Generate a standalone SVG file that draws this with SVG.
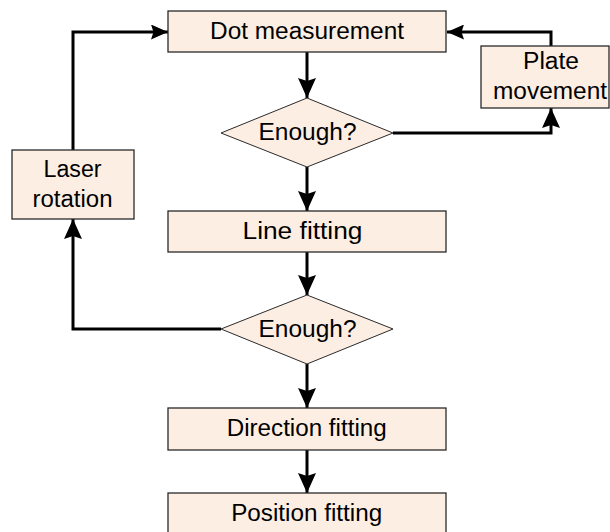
<svg xmlns="http://www.w3.org/2000/svg" width="610" height="532" viewBox="0 0 610 532">
  <style>
    .box { fill: #fdeee3; stroke: #2a2a2a; stroke-width: 1.3; }
    .dia { fill: #fdeee3; stroke: #2a2a2a; stroke-width: 1; }
    .lbl { font-family: "Liberation Sans", Arial, sans-serif; font-size: 23px; fill: #000; text-anchor: middle; }
    .wire { fill: none; stroke: #000; stroke-width: 3; stroke-linejoin: miter; }
    .down { marker-end: url(#headV); }
    .side { marker-end: url(#headH); }
  </style>
  <defs>
    <marker id="headV" markerUnits="userSpaceOnUse" viewBox="0 0 20 18" refX="20" refY="9" markerWidth="20" markerHeight="18" orient="auto">
      <path d="M0,0 L20,9 L0,18 L3,9 Z" fill="#000"/>
    </marker>
    <marker id="headH" markerUnits="userSpaceOnUse" viewBox="0 0 17 15" refX="17" refY="7.5" markerWidth="17" markerHeight="15" orient="auto">
      <path d="M0,0 L17,7.5 L0,15 L2.5,7.5 Z" fill="#000"/>
    </marker>
  </defs>

  <g id="connectors">
    <path class="wire down" d="M307,52 V98"/>
    <path class="wire down" d="M307,167 V211"/>
    <path class="wire down" d="M307,252 V295"/>
    <path class="wire down" d="M307,364 V408"/>
    <path class="wire down" d="M307,450 V493"/>
    <path class="wire down" d="M393,133 H551 V108"/>
    <path class="wire side" d="M551,46 V32 H447"/>
    <path class="wire down" d="M221,329 H73 V219"/>
    <path class="wire side" d="M73,150 V32 H168"/>
  </g>

  <g id="dot-measurement">
    <rect class="box" x="168" y="11" width="278" height="41"/>
    <text class="lbl" x="307" y="39" textLength="194" lengthAdjust="spacingAndGlyphs">Dot measurement</text>
  </g>

  <g id="plate-movement">
    <rect class="box" x="481" y="46" width="128" height="62"/>
    <text class="lbl" x="551" y="69" textLength="56" lengthAdjust="spacingAndGlyphs">Plate</text>
    <text class="lbl" x="550" y="99" textLength="114" lengthAdjust="spacingAndGlyphs">movement</text>
  </g>

  <g id="check-dots">
    <polygon class="dia" points="307,98 393,133 307,167 221,133"/>
    <text class="lbl" x="307.5" y="140" textLength="98" lengthAdjust="spacingAndGlyphs">Enough?</text>
  </g>

  <g id="laser-rotation">
    <rect class="box" x="12" y="150" width="122" height="69"/>
    <text class="lbl" x="72.5" y="177" textLength="58" lengthAdjust="spacingAndGlyphs">Laser</text>
    <text class="lbl" x="72.5" y="207" textLength="80" lengthAdjust="spacingAndGlyphs">rotation</text>
  </g>

  <g id="line-fitting">
    <rect class="box" x="168" y="211" width="278" height="41"/>
    <text class="lbl" x="302.5" y="239" textLength="120" lengthAdjust="spacingAndGlyphs">Line fitting</text>
  </g>

  <g id="check-lines">
    <polygon class="dia" points="307,295 393,329 307,364 221,329"/>
    <text class="lbl" x="307.5" y="337" textLength="98" lengthAdjust="spacingAndGlyphs">Enough?</text>
  </g>

  <g id="direction-fitting">
    <rect class="box" x="168" y="408" width="278" height="42"/>
    <text class="lbl" x="306.7" y="436" textLength="160" lengthAdjust="spacingAndGlyphs">Direction fitting</text>
  </g>

  <g id="position-fitting">
    <rect class="box" x="168" y="493" width="278" height="45"/>
    <text class="lbl" x="306.7" y="521" textLength="151" lengthAdjust="spacingAndGlyphs">Position fitting</text>
  </g>
</svg>
